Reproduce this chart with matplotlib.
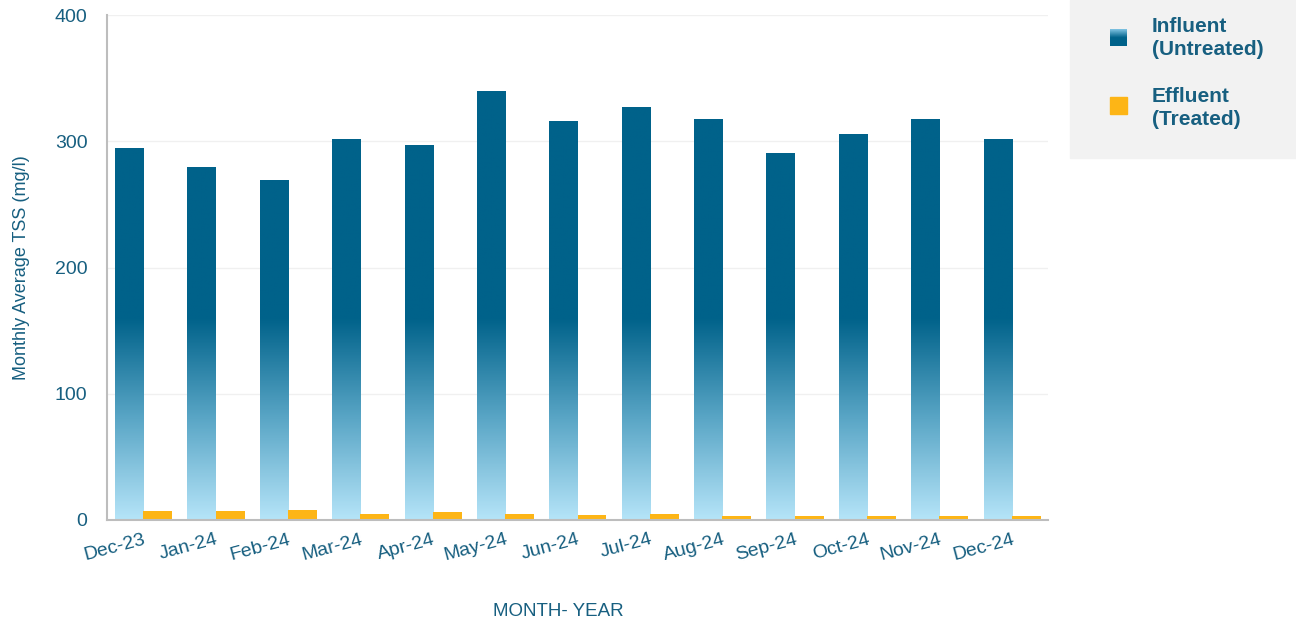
import numpy as np
import matplotlib
matplotlib.use("Agg")
import matplotlib.pyplot as plt
from matplotlib.colors import LinearSegmentedColormap, Normalize
from matplotlib.patches import Rectangle

plt.rcParams['font.family'] = ['Liberation Sans', 'DejaVu Sans']

months = ["Dec-23", "Jan-24", "Feb-24", "Mar-24", "Apr-24", "May-24", "Jun-24",
          "Jul-24", "Aug-24", "Sep-24", "Oct-24", "Nov-24", "Dec-24"]
influent = [295, 280, 269, 302, 297, 340, 316, 327, 318, 291, 306, 318, 302]
effluent = [7, 7, 8, 5, 6, 5, 4, 5, 3.5, 3.5, 3, 3, 3.5]

dark = "#00628a"
light = "#b5e4f8"
orange = "#fdb516"
text_c = "#175f80"

fig = plt.figure(figsize=(12.96, 6.24), dpi=100)
ax = fig.add_axes([107 / 1296, 104 / 624, 941 / 1296, 505 / 624])

x = np.arange(len(months))
w = 0.39
cmap = LinearSegmentedColormap.from_list("tss", [light, "#5aa6c6", dark])
norm = Normalize(0, 160)
grad = np.linspace(0, 400, 400)[:, None]

# influent bars filled with a vertical gradient clipped to each bar
bars = ax.bar(x - w / 2, influent, width=w, color="none", edgecolor="none", zorder=2)
for b in bars:
    x0 = b.get_x()
    im = ax.imshow(grad, cmap=cmap, norm=norm, origin="lower", aspect="auto",
                   extent=(x0, x0 + b.get_width(), 0, 400), zorder=2)
    im.set_clip_path(b)

ax.bar(x + 0.2, effluent, width=0.4, color=orange, zorder=2)

ax.set_xlim(-0.5, len(months) - 0.5)
ax.set_ylim(0, 400)
ax.set_yticks([0, 100, 200, 300, 400])
ax.yaxis.grid(True, color="#f0f0f0", linewidth=1)
ax.set_axisbelow(True)
for s in ["top", "right"]:
    ax.spines[s].set_visible(False)
for s in ["left", "bottom"]:
    ax.spines[s].set_color("#bdbdbd")
    ax.spines[s].set_linewidth(1.5)
ax.tick_params(length=0, colors=text_c, labelsize=14)
ax.tick_params(axis="y", pad=14)
ax.set_xticks(x)
ax.set_xticklabels(months, rotation=15, ha="right", rotation_mode="anchor")
ax.tick_params(axis="x", pad=8)
ax.set_ylabel("Monthly Average TSS (mg/l)", color=text_c, fontsize=13)
ax.yaxis.set_label_coords(-0.082, 0.5)
ax.set_xlabel("MONTH- YEAR", color=text_c, fontsize=13.5)
ax.xaxis.set_label_coords(0.48, -0.165)

# legend panel
fig.patches.append(Rectangle((1070 / 1296, 1 - 158 / 624), 226 / 1296, 158 / 624,
                             transform=fig.transFigure, color="#f2f2f2", zorder=-1))
lx = 1110 / 1296
sw, sh = 17 / 1296, 17 / 624
key = fig.add_axes([lx, 1 - 46 / 624, sw, sh], zorder=3)
key.imshow(np.linspace(0, 1, 50)[:, None], cmap=LinearSegmentedColormap.from_list(
    "key", ["#7fc3e2", dark, dark]), origin="upper", aspect="auto")
key.axis("off")
fig.add_artist(Rectangle((lx, 1 - 114 / 624), sw, sh,
                         transform=fig.transFigure, color=orange))
fig.text(1152 / 1296, 1 - 38 / 624, "Influent\n(Untreated)", color=text_c,
         fontsize=15, fontweight="bold", va="center", linespacing=1.3)
fig.text(1152 / 1296, 1 - 108 / 624, "Effluent\n(Treated)", color=text_c,
         fontsize=15, fontweight="bold", va="center", linespacing=1.3)

fig.savefig("out.png", dpi=100)
